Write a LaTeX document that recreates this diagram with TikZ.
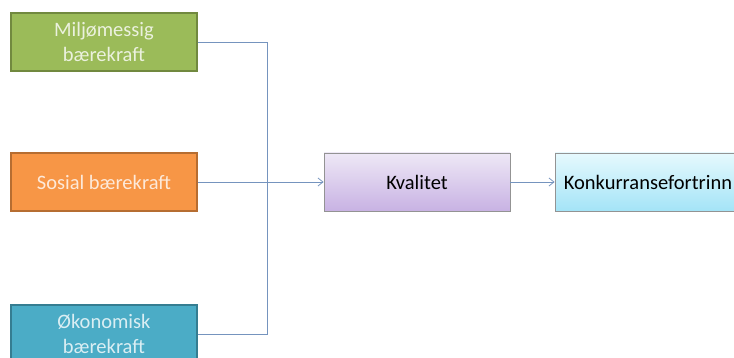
\documentclass[tikz,border=0pt]{standalone}
\usepackage{fontspec}
\setmainfont{Carlito}
\usetikzlibrary{arrows.meta,shadows}
\definecolor{gruenfill}{HTML}{9BBB59}
\definecolor{gruenline}{HTML}{71893F}
\definecolor{gruentext}{HTML}{EBF1DE}
\definecolor{orangefill}{HTML}{F79646}
\definecolor{orangeline}{HTML}{B66D31}
\definecolor{orangetext}{HTML}{FDE9D9}
\definecolor{blaufill}{HTML}{4BACC6}
\definecolor{blauline}{HTML}{357D91}
\definecolor{blautext}{HTML}{DAEEF3}
\definecolor{lilaoben}{HTML}{EEE8F6}
\definecolor{lilaunten}{HTML}{C8B2E3}
\definecolor{tuerkisoben}{HTML}{E6F9FD}
\definecolor{tuerkisunten}{HTML}{A4E4F7}
\definecolor{verbinder}{HTML}{7594BE}

\tikzset{
  kasten/.style={rectangle, minimum width=186pt, minimum height=58pt, inner sep=0pt,
    align=center, font=\fontsize{20.5}{25}\selectfont,
    drop shadow={opacity=0.2, shadow xshift=1pt, shadow yshift=-1.5pt}},
  farbkasten/.style={kasten, line width=1.6pt, draw=#1line, fill=#1fill, text=#1text},
  verlaufkasten/.style={kasten, draw=gray!85, line width=0.8pt, top color=#1oben, bottom color=#1unten},
  linie/.style={draw=verbinder, line width=0.8pt},
  >={Straight Barb[length=5pt,width=8pt]}
}

\begin{document}
\begin{tikzpicture}[x=1pt,y=-1pt]
  \useasboundingbox (0,0) rectangle (734,358);
  \clip (0,0) rectangle (734,358);

  % drei Saeulen
  \node[farbkasten=gruen] (miljo) at (104,42) {Miljømessig\\bærekraft};
  \node[farbkasten=orange] (sosial) at (104,182) {Sosial bærekraft};
  \node[farbkasten=blau] (okonom) at (104,334) {Økonomisk\\bærekraft};

  % Ergebnis
  \node[verlaufkasten=lila] (kval) at (417,182) {Kvalitet};
  \node[verlaufkasten=tuerkis] (konk) at (648,182) {Konkurransefortrinn};

  \coordinate (samle) at (267,182);
  \draw[linie] (miljo.east) -| (samle);
  \draw[linie] (okonom.east) -| (samle);
  \draw[linie,->] (sosial) -- (kval);
  \draw[linie,->] (kval) -- (konk);
\end{tikzpicture}
\end{document}
